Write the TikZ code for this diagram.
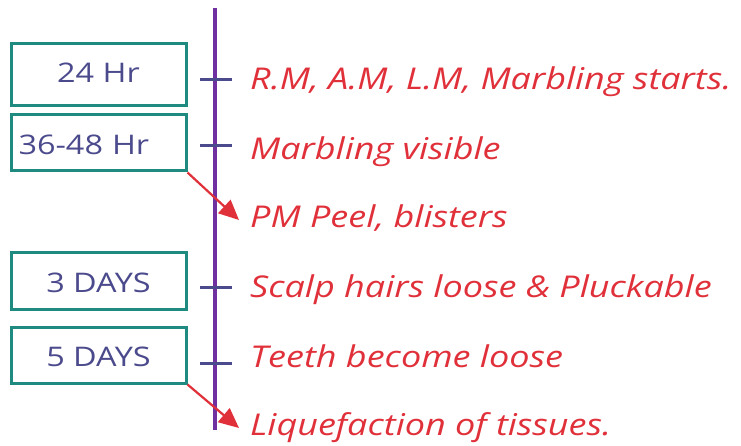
\documentclass[tikz,border=0pt]{standalone}
\usepackage{fontspec}
\setmainfont[FakeStretch=1.2]{Open Sans}
\usetikzlibrary{arrows.meta}
\definecolor{axis}{HTML}{7030A0}
\definecolor{boxc}{HTML}{1E8A80}
\definecolor{tickc}{HTML}{4B4A8C}
\definecolor{redt}{HTML}{E0303A}
\tikzset{
  x=1pt,y=-1pt,
  tbox/.style={draw=boxc,line width=3pt,minimum width=175pt,inner ysep=0pt,inner xsep=0pt,text depth=0pt,text=tickc,font=\fontsize{27}{30}\selectfont},
  evt/.style={anchor=base west,text=redt,inner sep=0pt,font=\fontsize{30}{32}\selectfont\itshape},
  tick/.style={draw=tickc,line width=3pt},
  arr/.style={draw=redt,line width=2.2pt,-{Triangle[length=20pt,width=18pt]}}
}
\begin{document}
\begin{tikzpicture}
\useasboundingbox (0,0) rectangle (741,446);
\coordinate (top) at (215,8);
\coordinate (bot) at (215,430);
\draw[axis,line width=3.2pt] (top) -- (bot);
\node[tbox,minimum height=62pt,text height=16pt] (b1) at (98.5,75) {24 Hr};
\node[tbox,minimum height=56pt,text height=24pt,text width=160pt,align=left,inner xsep=7.5pt] (b2) at (98.5,143) {36-48 Hr};
\node[tbox,minimum height=56pt,text height=22pt] (b3) at (98.5,281) {3 DAYS};
\node[tbox,minimum height=56pt,text height=22pt] (b4) at (98.5,355) {5 DAYS};
\foreach \n/\y in {1/80,2/146,3/287,4/363}{
  \coordinate (tl\n) at (200,\y);
  \coordinate (tr\n) at (232,\y);
  \draw[tick] (tl\n) -- (tr\n);
}
\node[evt] (e1) at (250,90) {R.M, A.M, L.M, Marbling starts.};
\node[evt] (e2) at (250,160) {Marbling visible};
\node[evt] (e3) at (250,228) {PM Peel, blisters};
\node[evt] (e4) at (250,297) {Scalp hairs loose \& Pluckable};
\node[evt] (e5) at (250,367) {Teeth become loose};
\node[evt] (e6) at (250,435) {Liquefaction of tissues.};
\coordinate (a1) at (239,220);
\coordinate (a2) at (239,428);
\draw[arr] (b2.south east) -- (a1);
\draw[arr] (b4.south east) -- (a2);
\end{tikzpicture}
\end{document}
